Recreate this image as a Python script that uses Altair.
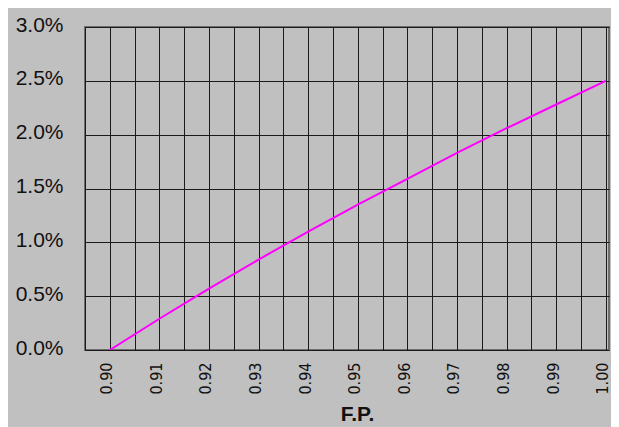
import altair as alt
import pandas as pd

# F.P. (power factor) values and readings of the curve (in %)
fp = [0.90, 0.91, 0.92, 0.93, 0.94, 0.95, 0.96, 0.97, 0.98, 0.99, 1.00]
pct = [0.00, 0.29, 0.57, 0.84, 1.10, 1.35, 1.59, 1.83, 2.06, 2.28, 2.50]

x_grid = [round(0.895 + 0.005 * i, 3) for i in range(22)]
y_ticks = [0.0, 0.005, 0.01, 0.015, 0.02, 0.025, 0.03]

df = pd.DataFrame({"fp": fp, "val": [p / 100 for p in pct]})

chart = alt.Chart(df).mark_line(color="#FF00FF", strokeWidth=2, clip=True).encode(
    x=alt.X(
        "fp:Q",
        scale=alt.Scale(domain=[0.895, 1.00065], nice=False, zero=False),
        axis=alt.Axis(
            values=x_grid,
            labelExpr="round(datum.value*1000) % 10 == 0 ? format(datum.value, '.2f') : ''",
            labelAngle=270,
            labelFont="Liberation Sans Narrow, DejaVu Sans Condensed, Roboto Condensed, Liberation Sans, sans-serif",
            labelFontSize=16,
            labelColor="#111111",
            labelPadding=12,
            labelOffset=-3,
            ticks=False,
            domain=False,
            grid=True,
            gridColor="#1a1a1a",
            gridWidth=1,
            gridOpacity=1,
            title="F.P.",
            titleFont="Liberation Sans",
            titleFontSize=21,
            titleFontWeight="bold",
            titleColor="#111111",
            titleX=272,
            titleY=70,
            titleBaseline="alphabetic",
            titleAlign="center",
            labelOverlap=False,
        ),
    ),
    y=alt.Y(
        "val:Q",
        scale=alt.Scale(domain=[0, 0.03], nice=False),
        axis=alt.Axis(
            values=y_ticks,
            format=".1%",
            labelFont="Liberation Sans",
            labelFontSize=21,
            labelColor="#111111",
            labelPadding=22,
            labelOffset=-2,
            ticks=False,
            domain=False,
            grid=True,
            gridColor="#1a1a1a",
            gridWidth=1,
            gridOpacity=1,
            title=None,
        ),
    ),
).properties(
    width=524,
    height=323,
    background="#C0C0C0",
    padding={"left": 77, "top": 19, "right": 2, "bottom": 77},
    autosize=alt.AutoSizeParams(type="none"),
).configure_view(
    stroke="#6e6e6e",
    strokeWidth=2,
    fill="#C0C0C0",
)

chart.save("out.html", embed_options={"renderer": "svg", "actions": False})
